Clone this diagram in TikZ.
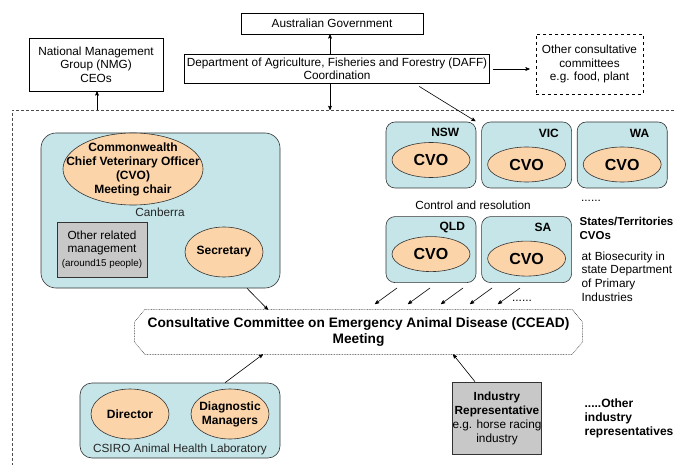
\documentclass[tikz,border=0pt]{standalone}
\usepackage{fontspec}
\setmainfont{Liberation Sans}
\usetikzlibrary{arrows}
\usetikzlibrary{positioning}
\usetikzlibrary{calc}
\usetikzlibrary{shapes.geometric}

\definecolor{paleblue}{RGB}{197,229,232}
\definecolor{peach}{RGB}{251,212,170}
\definecolor{boxgray}{RGB}{200,200,200}

\newcommand{\regtxt}{\fontsize{11.8}{13.5}\selectfont}
\newcommand{\boldtxt}{\fontsize{12}{14}\selectfont\bfseries}
\newcommand{\cvotxt}{\fontsize{16}{18}\selectfont\bfseries}
\newcommand{\smalltxt}{\fontsize{9.8}{12}\selectfont}
\newcommand{\bigtxt}{\fontsize{13.7}{16}\selectfont\bfseries}

\begin{document}
\begin{tikzpicture}[x=1pt,y=-1pt,->,>=stealth',line width=0.6pt,font=\regtxt]
		\tikzstyle{plain}=[draw,rectangle,align=center,inner sep=0pt]
		\tikzstyle{region}=[draw=black!80,fill=paleblue,rounded corners=9pt,minimum width=90pt,minimum height=66pt]
		\tikzstyle{oval}=[draw=black!80,fill=peach,ellipse,inner sep=0pt,align=center,font=\boldtxt]
		\tikzstyle{greybox}=[draw=black!80,fill=boxgray,align=center,inner sep=0pt]
		\useasboundingbox (0,0) rectangle (674,465);
		
		% government level
		\node[plain, minimum width=182pt, minimum height=21pt] (gov) at (332,23.5) {Australian Government};
		\node[plain, minimum width=305pt, minimum height=29pt] (daff) at (337,69) {Department of Agriculture, Fisheries and Forestry (DAFF)\\Coordination};
		\node[plain, minimum width=134pt, minimum height=53pt] (nmg) at (96,64.5) {National Management\\Group (NMG)\\CEOs};
		\node[plain, dashed, minimum width=107pt, minimum height=60pt] (other) at (589.5,64) {Other consultative\\committees\\e.g. food, plant};
		
		% dashed frame round the committee
		\coordinate (frameNW) at (12,110);
		\draw[-, dashed, black!70, dash pattern=on 3pt off 2pt] (674,110) -- (frameNW) -- (12,465);
		\coordinate (nmgin) at (97,110);
		\coordinate (daffin) at (330,110);
		
		% Canberra
		\node[region, rounded corners=15pt, minimum width=239pt, minimum height=155pt] (canberra) at (160.5,210.5) {};
		\node[oval, minimum width=140pt, minimum height=72pt, label={[font=\boldtxt, align=center]center:{Commonwealth\\Chief Veterinary Officer\\(CVO)\\Meeting chair}}] (cwcvo) at (133,169) {};
		\node[text=black!85] (canlbl) at (160,212) {Canberra};
		\node[greybox, minimum width=90pt, minimum height=55pt] (othermgmt) at (102,249.5) {Other related\\management\\{\smalltxt (around15 people)}};
		\node[oval, minimum width=78pt, minimum height=50pt] (secretary) at (224,252) {Secretary};
		
		% states and territories
		\node[region] (nsw) at (431,155) {};
		\node[region, right=5pt of nsw] (vic) {};
		\node[region, right=5pt of vic] (wa) {};
		\node[region, below=28pt of nsw] (qld) {};
		\node[region, right=5pt of qld] (sa) {};
		\node[font=\boldtxt] (nswlbl) at ($(nsw.north east)+(-31,11)$) {NSW};
		\node[font=\boldtxt] (viclbl) at ($(vic.north east)+(-23,12)$) {VIC};
		\node[font=\boldtxt] (walbl) at ($(wa.north east)+(-28,12)$) {WA};
		\node[font=\boldtxt] (qldlbl) at ($(qld.north east)+(-24,11)$) {QLD};
		\node[font=\boldtxt] (salbl) at ($(sa.north east)+(-29,11)$) {SA};
		\node[oval, font=\cvotxt, minimum width=78pt, minimum height=35pt] (nswcvo) at ($(nsw.center)+(0,5)$) {CVO};
		\node[oval, font=\cvotxt, minimum width=78pt, minimum height=35pt] (viccvo) at ($(vic.center)+(0,9.5)$) {CVO};
		\node[oval, font=\cvotxt, minimum width=78pt, minimum height=35pt] (wacvo) at ($(wa.center)+(0,9.5)$) {CVO};
		\node[oval, font=\cvotxt, minimum width=78pt, minimum height=35pt] (qldcvo) at ($(qld.center)+(0,4.5)$) {CVO};
		\node[oval, font=\cvotxt, minimum width=78pt, minimum height=35pt] (sacvo) at ($(sa.center)+(0,9)$) {CVO};
		\node (ctrl) at (473,205) {Control and resolution};
		\node (moredots) at (591,201) {......};
		\node[font=\fontsize{11.5}{14}\selectfont\bfseries, align=left, anchor=west] (stlbl) at (576,228.5) {States/Territories\\CVOs};
		\node[align=left, anchor=west, font=\fontsize{11.8}{13.7}\selectfont] (stnote) at (578,276.5) {at Biosecurity in\\state Department\\of Primary\\Industries};
		
		% the committee
		\node[minimum width=447pt, minimum height=44pt, align=center, font=\bigtxt, inner sep=0pt] (ccead) at (358.5,332) {Consultative Committee on Emergency Animal Disease (CCEAD)\\Meeting};
		\draw[-, dash pattern=on 0.8pt off 0.8pt, line width=0.5pt, black!80] ($(ccead.north west)+(10,0)$) -- ($(ccead.north east)+(-10,0)$) -- ($(ccead.north east)+(0,12)$) -- ($(ccead.south east)+(0,-12)$) -- ($(ccead.south east)+(-10,0)$) -- ($(ccead.south west)+(10,0)$) -- ($(ccead.south west)+(0,-12)$) -- ($(ccead.north west)+(0,12)$) -- cycle;
		
		% CSIRO and industry
		\node[region, rounded corners=12pt, minimum width=200pt, minimum height=75pt] (csiro) at (180,420.5) {};
		\node[oval, minimum width=78pt, minimum height=50pt] (director) at (130,414) {Director};
		\node[oval, minimum width=78pt, minimum height=50pt, label={[font=\boldtxt, align=center]center:{Diagnostic\\Managers}}] (diagmgr) at (230,414) {};
		\node[text=black!85] (csirolbl) at (180,449) {CSIRO Animal Health Laboratory};
		\node[greybox, minimum width=88pt, minimum height=72pt, font=\fontsize{11.8}{14}\selectfont] (industry) at (497,418) {{\bfseries Industry}\\{\bfseries Representative}\\e.g. horse racing\\industry};
		\node[font=\boldtxt, align=left, anchor=west] (otherind) at (581,418) {.....Other\\industry\\representatives};
		
		% connectors
		\draw (daffin |- daff.north) -- (daffin |- gov.south);
		\draw (daffin |- daff.south) -- (daffin);
		\draw (nmgin) -- (nmgin |- nmg.south);
		\draw[shorten <=3pt, shorten >=6pt] (daff.east) -- (daff.east -| other.west);
		\draw[shorten <=5pt, shorten >=1pt] ($(daff.south east)!0.245!(daff.south west)$) -- (nsw.north east);
		\foreach \i/\x in {1/397,2/430,3/463,4/492,5/520} {
			\coordinate (cs\i) at (\x,288);
			\coordinate (ct\i) at (\x-22,304);
			\draw (cs\i) -- (ct\i);
		}
		\node (cvodots) at (522,301) {......};
		\draw ($(canberra.south)+(86.5,0)$) -- ($(ccead.north)+(-90.5,0)$);
		\draw ($(csiro.north)+(45,0)$) -- ($(ccead.south)+(-95.5,0)$);
		\draw ($(industry.north)+(-22,0)$) -- ($(ccead.south)+(94.5,0)$);
		\end{tikzpicture}
\end{document}
